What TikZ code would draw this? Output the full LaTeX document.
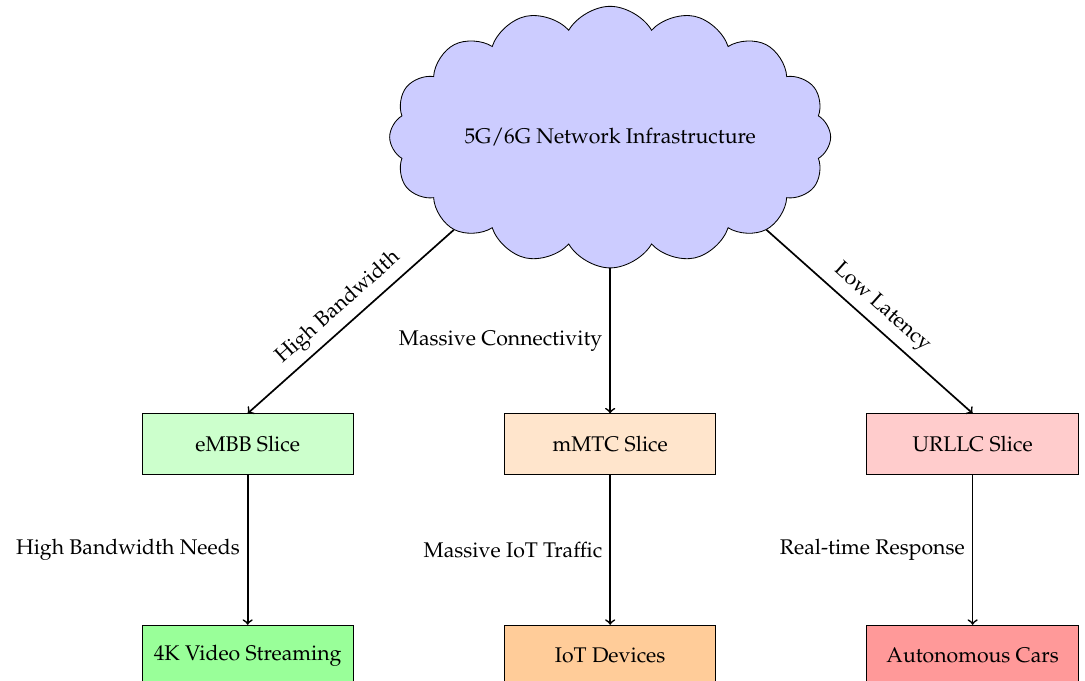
\documentclass[tikz,border=0pt]{standalone}
\usepackage[T1]{fontenc}
\usepackage{mathpazo}
\usepackage{tikz}
\usetikzlibrary{arrows,shapes,positioning}

\begin{document}
\begin{tikzpicture}[node distance=6cm]
      \tikzstyle{slice}=[rectangle,draw=black,minimum width=3.5cm,minimum height=1cm]
      \tikzstyle{usecase}=[rectangle,draw=black,minimum width=3.5cm,minimum height=1cm]
      \tikzstyle{link}=[->,thick]

      \useasboundingbox (-10.10,-3.92) rectangle (7.86,7.35);

      \node[slice,fill=orange!20](mmtc) at (0,0){mMTC Slice};
      \node[slice,fill=green!20,left of=mmtc](embb){eMBB Slice};
      \node[slice,fill=red!20,right of=mmtc](urllc){URLLC Slice};

      \node[cloud,cloud puffs=16,cloud puff arc=120,cloud ignores aspect,draw=black,fill=blue!20,minimum width=7.3cm,minimum height=4.33cm,above of=mmtc,node distance=5.08cm](core){5G/6G Network Infrastructure};

      \node[usecase,fill=green!40,below of=embb,node distance=3.5cm](video){4K Video Streaming};
      \node[usecase,fill=orange!40,below of=mmtc,node distance=3.5cm](iot){IoT Devices};
      \node[usecase,fill=red!40,below of=urllc,node distance=3.5cm](cars){Autonomous Cars};

      \path[link]
      (core.south west) edge node[sloped,above]{High Bandwidth} (embb.north)
      (core.south) edge node[left]{Massive Connectivity} (mmtc.north)
      (core.south east) edge node[sloped,above]{Low Latency} (urllc.north);

      \path[link]
      (embb) edge node[left]{High Bandwidth Needs} (video)
      (mmtc) edge node[left]{Massive IoT Traffic} (iot)
      (urllc) edge node[left]{Real-time Response} (cars);
\end{tikzpicture}
\end{document}
